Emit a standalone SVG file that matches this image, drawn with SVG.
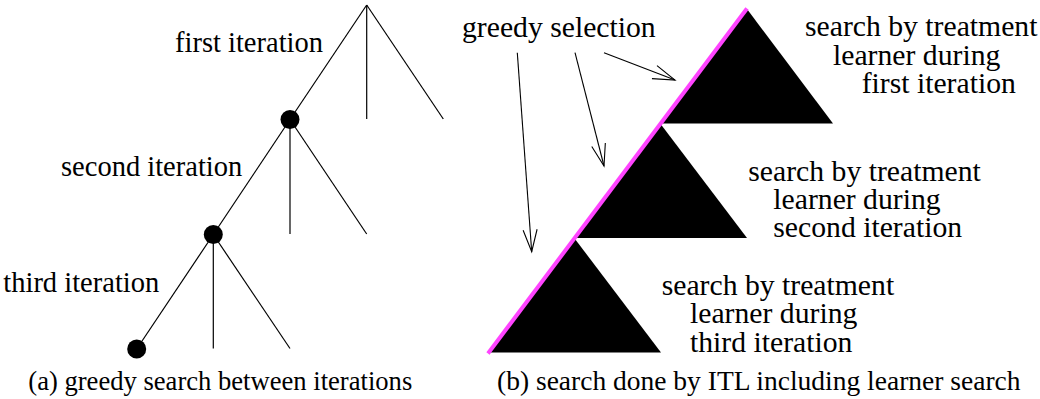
<svg xmlns="http://www.w3.org/2000/svg" width="1040" height="399" viewBox="0 0 1040 399">
<style>
.edge{stroke:#000;stroke-width:1.2;fill:none}
.arr{stroke:#000;stroke-width:1.1;fill:none;marker-end:url(#vhead)}
.dot{fill:#000}
.tri{fill:#000}
</style>
<defs>
<marker id="vhead" markerUnits="userSpaceOnUse" markerWidth="30" markerHeight="20" viewBox="-24 -10 26 20" refX="0" refY="0" orient="auto">
<path d="M-22,-7 L0,0 L-22,7" fill="none" stroke="#000" stroke-width="1.1"/>
</marker>
</defs>
<rect width="1040" height="399" fill="#fff"/>
<g id="connectors">
<line class="edge" x1="366.7" y1="5" x2="290" y2="119.5"/>
<line class="edge" x1="366.7" y1="5" x2="366.7" y2="119"/>
<line class="edge" x1="366.7" y1="5" x2="443.3" y2="119"/>
<line class="edge" x1="290" y1="119.5" x2="213.3" y2="234.5"/>
<line class="edge" x1="290" y1="119.5" x2="290" y2="234"/>
<line class="edge" x1="290" y1="119.5" x2="366.7" y2="234"/>
<line class="edge" x1="213.3" y1="234.5" x2="136.7" y2="349"/>
<line class="edge" x1="213.3" y1="234.5" x2="213.3" y2="348.5"/>
<line class="edge" x1="213.3" y1="234.5" x2="290" y2="348.5"/>
<line class="arr" x1="517.3" y1="52.7" x2="531.7" y2="251.7"/>
<line class="arr" x1="575" y1="52.7" x2="604" y2="166"/>
<line class="arr" x1="604" y1="52.7" x2="675" y2="80"/>
</g>
<g id="node-first"><circle cx="290" cy="119.5" r="9.5" class="dot"/></g>
<g id="node-second"><circle cx="213.3" cy="234.5" r="9.5" class="dot"/></g>
<g id="node-third"><circle cx="136.7" cy="349" r="9.5" class="dot"/></g>
<g font-family="Liberation Serif, Times New Roman, DejaVu Serif, serif" fill="#000">
<g id="label-first" font-size="28.5"><text x="175" y="52.3">first iteration</text></g>
<g id="label-second" font-size="28.5"><text x="61" y="175.5">second iteration</text></g>
<g id="label-third" font-size="28.5"><text x="3.3" y="291.5">third iteration</text></g>
<g id="caption-a" font-size="26.6"><text x="28.3" y="390">(a) greedy search between iterations</text></g>
</g>
<g id="tri-first"><polygon class="tri" points="747,9 833,123.5 661,123.5"/></g>
<g id="tri-second"><polygon class="tri" points="661,124.5 747,238 575,238"/></g>
<g id="tri-third"><polygon class="tri" points="575,239 661,352.5 489,352.5"/></g>
<g id="greedy-path"><line x1="488" y1="353.5" x2="747" y2="8.5" stroke="#ff44ff" stroke-width="4"/></g>
<g font-family="Liberation Serif, Times New Roman, DejaVu Serif, serif" fill="#000" font-size="29.7">
<g id="greedy-label"><text x="462" y="36.5">greedy selection</text></g>
<g id="text-first"><text x="805" y="36">search by treatment</text><text x="833" y="64.5">learner during</text><text x="861.7" y="93.3">first iteration</text></g>
<g id="text-second"><text x="748.3" y="180.5">search by treatment</text><text x="773.3" y="209.3">learner during</text><text x="773.3" y="237.3">second iteration</text></g>
<g id="text-third"><text x="661.7" y="295">search by treatment</text><text x="690" y="323.3">learner during</text><text x="690" y="351.7">third iteration</text></g>
<g id="caption-b" font-size="27.5"><text x="497" y="390">(b) search done by ITL including learner search</text></g>
</g>
</svg>
